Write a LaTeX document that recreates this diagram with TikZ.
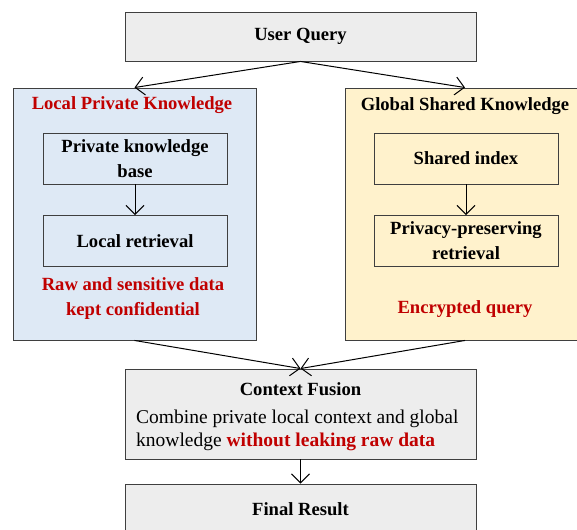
\documentclass[tikz,border=0pt]{standalone}
\usepackage{fontspec}
\setmainfont{Liberation Serif}
\usetikzlibrary{arrows.meta}
\definecolor{boxgray}{HTML}{EDEDED}
\definecolor{edgegray}{HTML}{3F3F3F}
\definecolor{localblue}{HTML}{DEE9F5}
\definecolor{globalyellow}{HTML}{FFF2CC}
\definecolor{alertred}{HTML}{C00000}
\tikzset{
  txt/.style={font=\fontsize{18.6}{25}\selectfont\bfseries, align=center, inner sep=0pt},
  panel/.style={draw=edgegray, line width=0.9pt, inner sep=0pt},
  inner/.style={panel, minimum width=184, minimum height=51},
  link/.style={-{Straight Barb[length=9pt,width=18pt]}, line width=1pt, black},
}
\begin{document}
\begin{tikzpicture}[x=1pt,y=-1pt]
  \useasboundingbox (0,0) rectangle (577,529);
  % top and bottom boxes
  \node[panel, fill=boxgray, minimum width=351, minimum height=49] (query) at (300.5,36.5) {};
  \node[txt] (querytxt) at (query.center) {User Query};
  \node[panel, fill=boxgray, minimum width=351, minimum height=90] (fusion) at (300.5,414) {};
  \node[panel, fill=boxgray, minimum width=351, minimum height=60] (result) at (300.5,514) {};
  \node[txt] (resulttxt) at (300.5,509) {Final Result};

  % local side
  \node[panel, fill=localblue, minimum width=243, minimum height=252] (local) at (134.5,214) {};
  \node[txt, text=alertred] (localtitle) at (132,105) {Local Private Knowledge};
  \node[inner, fill=localblue] (kbase) at (135,158.5) {};
  \node[txt] (kbasetxt) at (kbase.center) {Private knowledge\\base};
  \node[inner, fill=localblue] (lret) at (135,241) {};
  \node[txt] (lrettxt) at (lret.center) {Local retrieval};
  \node[txt, text=alertred] (localnote) at (133,298.5) {Raw and sensitive data\\kept confidential};

  % global side
  \node[panel, fill=globalyellow, minimum width=240, minimum height=252] (global) at (465,214) {};
  \node[txt] (globaltitle) at (465,106) {Global Shared Knowledge};
  \node[inner, fill=globalyellow] (sindex) at (466,158.5) {};
  \node[txt] (sindextxt) at (sindex.center) {Shared index};
  \node[inner, fill=globalyellow] (pret) at (466,241) {};
  \node[txt] (prettxt) at (pret.center) {Privacy-preserving\\retrieval};
  \node[txt, text=alertred] (globalnote) at (465,309) {Encrypted query};

  % fusion text
  \node[txt] (fusiontitle) at (300.5,389) {Context Fusion};
  \node[inner sep=0pt, anchor=west, align=left, font=\fontsize{19.5}{23}\selectfont] (fusionbody) at (136,430.5)
    {Combine private local context and global\\knowledge \textbf{\color{alertred}without leaking raw data}};

  % connectors
  \draw[link] (query.south) -- (local.north);
  \draw[link] (query.south) -- (global.north);
  \draw[link] (kbase) -- (lret);
  \draw[link] (sindex) -- (pret);
  \draw[link] (local.south) -- (fusion.north);
  \draw[link] (global.south) -- (fusion.north);
  \draw[link] (fusion) -- (result);
\end{tikzpicture}
\end{document}
